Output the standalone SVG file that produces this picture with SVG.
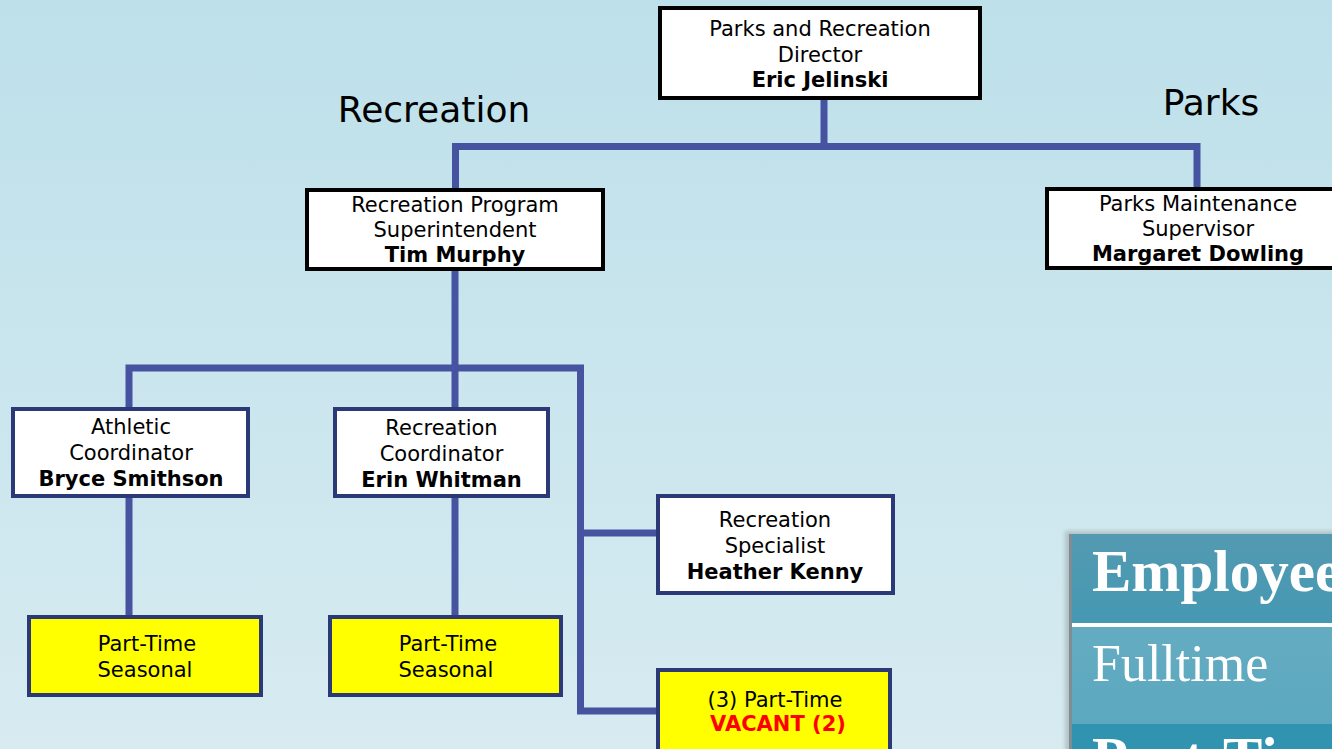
<svg xmlns="http://www.w3.org/2000/svg" width="1332" height="749" viewBox="0 0 1332 749">
<defs>
<linearGradient id="bg" x1="0" y1="0" x2="0" y2="1">
<stop offset="0" stop-color="#bde0ea"/>
<stop offset="1" stop-color="#d7ebf1"/>
</linearGradient>
<linearGradient id="hdr" x1="0" y1="0" x2="0" y2="1">
<stop offset="0" stop-color="#539ab1"/>
<stop offset="1" stop-color="#4598b3"/>
</linearGradient>
<linearGradient id="row1" x1="0" y1="0" x2="0" y2="1">
<stop offset="0" stop-color="#64acc2"/>
<stop offset="1" stop-color="#5ca8bf"/>
</linearGradient>
<filter id="blur" x="-10%" y="-10%" width="120%" height="120%"><feGaussianBlur stdDeviation="2"/></filter>
</defs>
<style>
.t{font-family:"DejaVu Sans",Verdana,sans-serif;font-size:21px;fill:#000;text-anchor:middle}
.b{font-weight:bold}
.red{fill:#ff0000;font-weight:bold}
.top{fill:#fff;stroke:#000;stroke-width:4}
.low{fill:#fff;stroke:#2c3977;stroke-width:4}
.yel{fill:#ffff00;stroke:#2c3977;stroke-width:4}
.con{fill:none;stroke:#4553a0;stroke-width:7;stroke-linejoin:miter;stroke-linecap:butt}
.lbl{font-family:"DejaVu Sans",Verdana,sans-serif;font-size:36px;fill:#000}
.tab{font-family:"Liberation Serif","Times New Roman",serif;fill:#fff}
</style>
<rect x="0" y="0" width="1332" height="749" fill="url(#bg)"/>

<text class="lbl" x="434" y="122" text-anchor="middle">Recreation</text>
<text class="lbl" x="1211" y="115" text-anchor="middle">Parks</text>

<g id="connectors">
<path class="con" d="M824 100 V146.5"/>
<path class="con" d="M455.5 188 V146.5 H1197 V187"/>
<path class="con" d="M455 271 V407"/>
<path class="con" d="M129 407 V368 H580.5 V711 H656"/>
<path class="con" d="M580.5 533 H656"/>
<path class="con" d="M129 498 V615"/>
<path class="con" d="M455 498 V615"/>
</g>

<g id="director">
<rect class="top" x="660" y="8" width="320" height="90"/>
<text class="t" x="820" y="36">Parks and Recreation</text>
<text class="t" x="820" y="62">Director</text>
<text class="t b" x="820" y="87">Eric Jelinski</text>
</g>

<g id="superintendent">
<rect class="top" x="307" y="190" width="296" height="79"/>
<text class="t" x="455" y="212">Recreation Program</text>
<text class="t" x="455" y="237">Superintendent</text>
<text class="t b" x="455" y="262">Tim Murphy</text>
</g>

<g id="parks-supervisor">
<rect class="top" x="1047" y="189" width="302" height="79"/>
<text class="t" x="1198" y="211">Parks Maintenance</text>
<text class="t" x="1198" y="236">Supervisor</text>
<text class="t b" x="1198" y="261">Margaret Dowling</text>
</g>

<g id="athletic">
<rect class="low" x="13" y="409" width="235" height="87"/>
<text class="t" x="131" y="434">Athletic</text>
<text class="t" x="131" y="460">Coordinator</text>
<text class="t b" x="131" y="486">Bryce Smithson</text>
</g>

<g id="rec-coordinator">
<rect class="low" x="335" y="409" width="213" height="87"/>
<text class="t" x="441.5" y="435">Recreation</text>
<text class="t" x="441.5" y="461">Coordinator</text>
<text class="t b" x="441.5" y="487">Erin Whitman</text>
</g>

<g id="rec-specialist">
<rect class="low" x="658" y="496" width="235" height="97"/>
<text class="t" x="775" y="527">Recreation</text>
<text class="t" x="775" y="553">Specialist</text>
<text class="t b" x="775" y="579">Heather Kenny</text>
</g>

<g id="parttime-1">
<rect class="yel" x="29" y="617" width="232" height="78"/>
<text class="t" x="147" y="651">Part-Time</text>
<text class="t" x="145" y="677">Seasonal</text>
</g>

<g id="parttime-2">
<rect class="yel" x="330" y="617" width="231" height="78"/>
<text class="t" x="448" y="651">Part-Time</text>
<text class="t" x="446" y="677">Seasonal</text>
</g>

<g id="parttime-vacant">
<rect class="yel" x="658" y="670" width="232" height="84"/>
<text class="t" x="775" y="707">(3) Part-Time</text>
<text class="t red" x="778" y="731">VACANT (2)</text>
</g>

<g id="employee-table">
<rect x="1065" y="531" width="280" height="230" fill="#9aa9ad" opacity="0.6" filter="url(#blur)"/>
<rect x="1071" y="534" width="270" height="90" fill="url(#hdr)"/>
<rect x="1071" y="623" width="270" height="4" fill="#ffffff"/>
<rect x="1071" y="627" width="270" height="97" fill="url(#row1)"/>
<rect x="1071" y="724" width="270" height="30" fill="#3093b0"/>
<rect x="1069" y="534" width="3" height="220" fill="#7f8d92"/>
<text class="tab" x="1092" y="591" font-size="59" font-weight="bold">Employee</text>
<text class="tab" x="1092" y="681" font-size="52">Fulltime</text>
<text class="tab" x="1092" y="778" font-size="59" font-weight="bold">Part-Time</text>
</g>
</svg>
